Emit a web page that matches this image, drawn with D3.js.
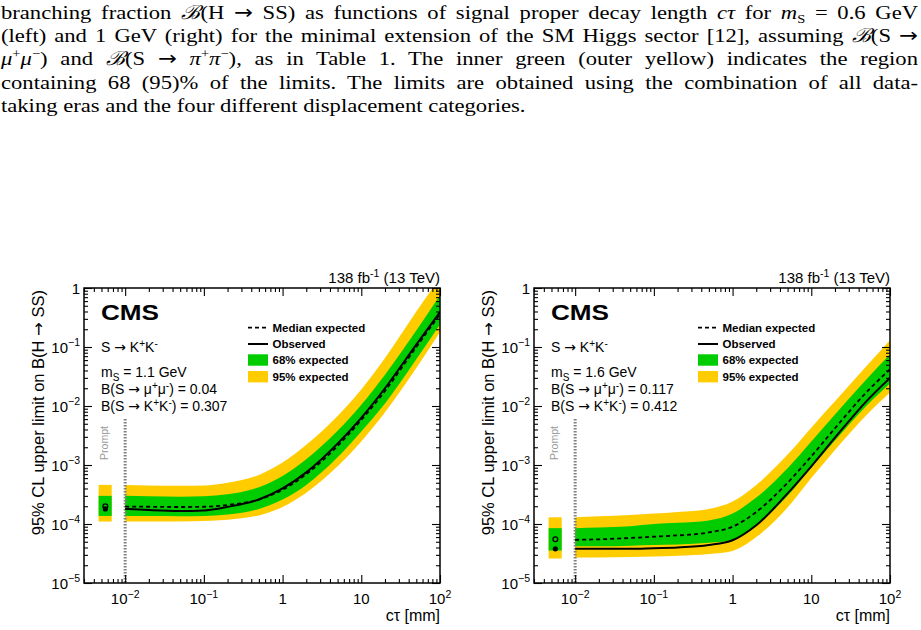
<!DOCTYPE html>
<html>
<head>
<meta charset="utf-8">
<script src="https://cdn.jsdelivr.net/npm/d3@7"></script>
<style>
  body { margin: 0; background: #fff; }
  text { font-family: "Liberation Sans", Arial, Helvetica, sans-serif; }
  .caption { font-family: "Liberation Serif", "DejaVu Serif", serif; font-size: 19.5px; }
</style>
</head>
<body>
<svg id="chart" width="921" height="630"></svg>
<script>
// signal proper decay length grid (mm)
const ctGrid = [0.01, 0.02, 0.05, 0.1, 0.2, 0.5, 1, 2, 5, 10, 20, 50, 100];

// left: m_S = 1.1 GeV
const leftObserved = [1.8e-4, 1.72e-4, 1.66e-4, 1.7e-4, 1.95e-4, 2.6e-4, 4.0e-4, 7.5e-4, 2.3e-3, 6.3e-3, 0.02, 0.11, 0.39];
const leftMedian   = [1.97e-4, 1.96e-4, 1.94e-4, 1.96e-4, 2.1e-4, 2.6e-4, 3.8e-4, 7.0e-4, 2.1e-3, 5.8e-3, 0.018, 0.1, 0.36];
const leftGreenLo  = [1.37e-4, 1.36e-4, 1.35e-4, 1.37e-4, 1.45e-4, 1.8e-4, 2.6e-4, 4.6e-4, 1.35e-3, 3.7e-3, 0.011, 0.062, 0.24];
const leftGreenHi  = [3.0e-4, 2.95e-4, 2.9e-4, 2.95e-4, 3.2e-4, 4.2e-4, 6.5e-4, 1.25e-3, 3.8e-3, 1.05e-2, 0.034, 0.19, 0.75];
const leftYellowLo = [1.1e-4, 1.1e-4, 1.1e-4, 1.12e-4, 1.18e-4, 1.4e-4, 1.95e-4, 3.4e-4, 9.5e-4, 2.5e-3, 7.8e-3, 0.044, 0.18];
const leftYellowHi = [4.6e-4, 4.5e-4, 4.45e-4, 4.5e-4, 5.0e-4, 6.8e-4, 1.1e-3, 2.2e-3, 6.8e-3, 1.9e-2, 0.065, 0.4, 1.5];

// right: m_S = 1.6 GeV
const rightObserved = [3.8e-5, 3.8e-5, 3.8e-5, 3.9e-5, 4.0e-5, 4.4e-5, 5.3e-5, 9.5e-5, 3.3e-4, 9.5e-4, 2.9e-3, 1.2e-2, 0.03];
const rightMedian   = [5.4e-5, 5.5e-5, 5.8e-5, 6.1e-5, 6.4e-5, 7.2e-5, 9.0e-5, 1.6e-4, 5.0e-4, 1.4e-3, 4.2e-3, 1.7e-2, 0.042];
const rightGreenLo  = [4.2e-5, 4.2e-5, 4.3e-5, 4.4e-5, 4.5e-5, 4.8e-5, 5.3e-5, 9.5e-5, 3.0e-4, 9.0e-4, 2.6e-3, 1.0e-2, 0.024];
const rightGreenHi  = [8.5e-5, 8.7e-5, 9.2e-5, 1.0e-4, 1.05e-4, 1.15e-4, 1.5e-4, 2.8e-4, 8.8e-4, 2.5e-3, 7.2e-3, 2.8e-2, 0.075];
const rightYellowLo = [2.7e-5, 2.7e-5, 2.75e-5, 2.8e-5, 2.9e-5, 3.1e-5, 3.5e-5, 6.0e-5, 1.9e-4, 6.0e-4, 1.8e-3, 7.0e-3, 0.017];
const rightYellowHi = [1.3e-4, 1.35e-4, 1.42e-4, 1.5e-4, 1.6e-4, 1.8e-4, 2.4e-4, 4.6e-4, 1.5e-3, 4.3e-3, 1.2e-2, 4.7e-2, 0.13];

// prompt category (left, right)
const promptCt = [0.0046, 0.0056, 0.00675];   // box low edge, point, box high edge
const promptObserved = [1.8e-4, 3.8e-5];
const promptMedian   = [2.0e-4, 5.5e-5];
const promptGreen    = [[1.37e-4, 3.0e-4], [3.55e-5, 8.5e-5]];
const promptYellow   = [[1.1e-4, 4.6e-4], [2.6e-5, 1.3e-4]];
const promptLineTop  = 6e-3;

const massLabels = ["1.1", "1.6"];
const bMuMuLabels = ["0.04", "0.117"];
const bKKLabels = ["0.307", "0.412"];

const xDomain = [0.003, 100];
const yDomain = [1e-5, 1];
const xMajor = [0.01, 0.1, 1, 10, 100];
const yMajor = [1e-5, 1e-4, 1e-3, 1e-2, 1e-1, 1];

const GREEN = "#00cc00", YELLOW = "#ffcc00";
const ARROW = '<tspan font-family="DejaVu Sans">→</tspan>';

const svg = d3.select("#chart");

// ---------- caption above the figure ----------
const calB = '<tspan font-family="DejaVu Serif" font-style="italic">ℬ</tspan>';
const sp = s => `<tspan font-size="12.5" dy="-7">${s}</tspan>`;
const captionLines = [
  `branching fraction ${calB}(H ${ARROW} SS) as functions of signal proper decay length <tspan font-style="italic">cτ</tspan> for <tspan font-style="italic">m</tspan><tspan font-size="12.5" dy="4">S</tspan><tspan dy="-4"> = 0.6 GeV</tspan>`,
  `(left) and 1 GeV (right) for the minimal extension of the SM Higgs sector [12], assuming ${calB}(S ${ARROW}`,
  `<tspan font-style="italic">μ</tspan>${sp("+")}<tspan font-style="italic" dy="7">μ</tspan>${sp("−")}<tspan dy="7">) and </tspan>${calB}(S ${ARROW} <tspan font-style="italic">π</tspan>${sp("+")}<tspan font-style="italic" dy="7">π</tspan>${sp("−")}<tspan dy="7">), as in Table 1. The inner green (outer yellow) indicates the region</tspan>`,
  'containing 68 (95)% of the limits. The limits are obtained using the combination of all data-',
  'taking eras and the four different displacement categories.'
];
const stretch = 1.16;
captionLines.forEach((html, i) => {
  const t = svg.append("text")
    .attr("class", "caption")
    .attr("transform", `translate(1,${19 + i * 23.2}) scale(${stretch},1)`)
    .html(html);
  if (i < 4) {
    const node = t.node();
    const spaces = (node.textContent.match(/ /g) || []).length;
    const extra = (917 / stretch - node.getComputedTextLength()) / spaces;
    t.style("word-spacing", extra + "px");
  }
});

// ---------- helpers ----------
function logLabel(v) {
  const e = Math.round(Math.log10(v));
  if (e === 0) return "1";
  if (e === 1) return "10";
  return `10<tspan font-size="10.5" dy="-6.5">${e < 0 ? "−" : ""}${Math.abs(e)}</tspan>`;
}
function isMajor(v) {
  const l = Math.log10(v);
  return Math.abs(l - Math.round(l)) < 1e-6;
}

function drawPanel(i, dx, series) {
  const x = d3.scaleLog().domain(xDomain).range([84 + dx, 440 + dx]);
  const y = d3.scaleLog().domain(yDomain).range([583, 288]);
  const g = svg.append("g");

  const clipId = "clip" + i;
  g.append("clipPath").attr("id", clipId)
    .append("rect")
    .attr("x", x.range()[0]).attr("y", y.range()[1])
    .attr("width", x.range()[1] - x.range()[0])
    .attr("height", y.range()[0] - y.range()[1]);

  const plot = g.append("g").attr("clip-path", `url(#${clipId})`);

  const pts = ctGrid.map((ct, k) => ({
    ct,
    obs: series.observed[k], med: series.median[k],
    gLo: series.greenLo[k], gHi: series.greenHi[k],
    yLo: series.yellowLo[k], yHi: series.yellowHi[k]
  }));

  const area = (lo, hi) => d3.area()
    .x(d => x(d.ct)).y0(d => y(d[lo])).y1(d => y(d[hi]))
    .curve(d3.curveMonotoneX);
  const line = key => d3.line()
    .x(d => x(d.ct)).y(d => y(d[key]))
    .curve(d3.curveMonotoneX);

  plot.append("path").datum(pts).attr("d", area("yLo", "yHi")).attr("fill", YELLOW);
  plot.append("path").datum(pts).attr("d", area("gLo", "gHi")).attr("fill", GREEN);

  // prompt box
  plot.append("rect")
    .attr("x", x(promptCt[0])).attr("width", x(promptCt[2]) - x(promptCt[0]))
    .attr("y", y(promptYellow[i][1])).attr("height", y(promptYellow[i][0]) - y(promptYellow[i][1]))
    .attr("fill", YELLOW);
  plot.append("rect")
    .attr("x", x(promptCt[0])).attr("width", x(promptCt[2]) - x(promptCt[0]))
    .attr("y", y(promptGreen[i][1])).attr("height", y(promptGreen[i][0]) - y(promptGreen[i][1]))
    .attr("fill", GREEN);

  // prompt separator
  plot.append("line")
    .attr("x1", x(0.01)).attr("x2", x(0.01))
    .attr("y1", y(promptLineTop)).attr("y2", y(1e-5))
    .attr("stroke", "#808080").attr("stroke-width", 3)
    .attr("stroke-dasharray", "1.5,1.5");
  g.append("text")
    .attr("transform", `translate(${x(promptCt[1]) + 2.5},${y(promptLineTop) + 7}) rotate(-90)`)
    .attr("text-anchor", "end")
    .attr("font-size", 10.5)
    .attr("fill", "#999")
    .text("Prompt");

  plot.append("path").datum(pts).attr("d", line("med"))
    .attr("fill", "none").attr("stroke", "#000").attr("stroke-width", 1.8)
    .attr("stroke-dasharray", "4,3");
  plot.append("path").datum(pts).attr("d", line("obs"))
    .attr("fill", "none").attr("stroke", "#000").attr("stroke-width", 2);

  plot.append("circle")
    .attr("cx", x(promptCt[1])).attr("cy", y(promptMedian[i])).attr("r", 2.4)
    .attr("fill", "none").attr("stroke", "#000").attr("stroke-width", 1.3);
  plot.append("circle")
    .attr("cx", x(promptCt[1])).attr("cy", y(promptObserved[i])).attr("r", 2.6)
    .attr("fill", "#000");

  // axes with inward ticks
  const xMinor = x.ticks().filter(v => !isMajor(v));
  const yMinor = y.ticks().filter(v => !isMajor(v));
  const axes = [
    [d3.axisBottom, x, `translate(0,${y.range()[0]})`, xMajor, xMinor],
    [d3.axisTop, x, `translate(0,${y.range()[1]})`, xMajor, xMinor],
    [d3.axisLeft, y, `translate(${x.range()[0]},0)`, yMajor, yMinor],
    [d3.axisRight, y, `translate(${x.range()[1]},0)`, yMajor, yMinor]
  ];
  axes.forEach(([fn, sc, tr, maj, min]) => {
    [[maj, 8], [min, 4]].forEach(([vals, len]) => {
      g.append("g").attr("transform", tr)
        .call(fn(sc).tickValues(vals).tickSize(-len).tickFormat(""))
        .call(a => a.select(".domain").remove())
        .selectAll("line").attr("stroke", "#000").attr("stroke-width", 1.1);
    });
  });

  g.append("rect")
    .attr("x", x.range()[0]).attr("y", y.range()[1])
    .attr("width", x.range()[1] - x.range()[0])
    .attr("height", y.range()[0] - y.range()[1])
    .attr("fill", "none").attr("stroke", "#000").attr("stroke-width", 1.5);

  // tick labels
  g.selectAll(".xl").data(xMajor).enter().append("text")
    .attr("x", d => x(d)).attr("y", 604)
    .attr("text-anchor", "middle").attr("font-size", 15)
    .html(d => logLabel(d));
  g.selectAll(".yl").data(yMajor).enter().append("text")
    .attr("x", x.range()[0] - 4).attr("y", d => y(d) + 5.5)
    .attr("text-anchor", "end").attr("font-size", 15)
    .html(d => logLabel(d));

  // axis titles
  g.append("text")
    .attr("x", x.range()[1]).attr("y", 621)
    .attr("text-anchor", "end").attr("font-size", 16)
    .text("cτ [mm]");
  g.append("text")
    .attr("transform", `translate(${44 + dx},290) rotate(-90)`)
    .attr("text-anchor", "end").attr("font-size", 16.5)
    .html(`95% CL upper limit on B(H ${ARROW} SS)`);
  g.append("text")
    .attr("x", x.range()[1]).attr("y", 283)
    .attr("text-anchor", "end").attr("font-size", 15)
    .html('138 fb<tspan font-size="10.5" dy="-6">-1</tspan><tspan dy="6"> (13 TeV)</tspan>');

  // labels inside the frame
  g.append("text")
    .attr("x", 101 + dx).attr("y", 320)
    .attr("font-size", 22).attr("font-weight", "bold")
    .attr("textLength", 58).attr("lengthAdjust", "spacingAndGlyphs")
    .text("CMS");
  const sup = s => `<tspan font-size="10" dy="-5">${s}</tspan>`;
  const info = [
    [352, `S ${ARROW} K${sup("+")}<tspan dy="5">K</tspan>${sup("-")}`],
    [377, `m<tspan font-size="10" dy="3.5">S</tspan><tspan dy="-3.5"> = ${massLabels[i]} GeV</tspan>`],
    [394, `B(S ${ARROW} μ${sup("+")}<tspan dy="5">μ</tspan>${sup("-")}<tspan dy="5">) = ${bMuMuLabels[i]}</tspan>`],
    [411, `B(S ${ARROW} K${sup("+")}<tspan dy="5">K</tspan>${sup("-")}<tspan dy="5">) = ${bKKLabels[i]}</tspan>`]
  ];
  info.forEach(([yy, html]) => {
    g.append("text").attr("x", 101 + dx).attr("y", yy).attr("font-size", 14).html(html);
  });

  // legend
  const lx = 248 + dx;
  const leg = g.append("g").attr("font-size", 11.5).attr("font-weight", "bold");
  leg.append("line").attr("x1", lx).attr("x2", lx + 20).attr("y1", 327.7).attr("y2", 327.7)
    .attr("stroke", "#000").attr("stroke-width", 1.8).attr("stroke-dasharray", "4,3");
  leg.append("line").attr("x1", lx).attr("x2", lx + 20).attr("y1", 344).attr("y2", 344)
    .attr("stroke", "#000").attr("stroke-width", 2);
  leg.append("rect").attr("x", lx).attr("y", 354.3).attr("width", 20).attr("height", 11.4).attr("fill", GREEN);
  leg.append("rect").attr("x", lx).attr("y", 371).attr("width", 20).attr("height", 11.4).attr("fill", YELLOW);
  [["Median expected", 331.8], ["Observed", 348.2], ["68% expected", 364.4], ["95% expected", 380.8]]
    .forEach(([s, yy]) => leg.append("text").attr("x", lx + 24.5).attr("y", yy).text(s));
}

drawPanel(0, 0, {
  observed: leftObserved, median: leftMedian,
  greenLo: leftGreenLo, greenHi: leftGreenHi,
  yellowLo: leftYellowLo, yellowHi: leftYellowHi
});
drawPanel(1, 450, {
  observed: rightObserved, median: rightMedian,
  greenLo: rightGreenLo, greenHi: rightGreenHi,
  yellowLo: rightYellowLo, yellowHi: rightYellowHi
});
</script>
</body>
</html>
